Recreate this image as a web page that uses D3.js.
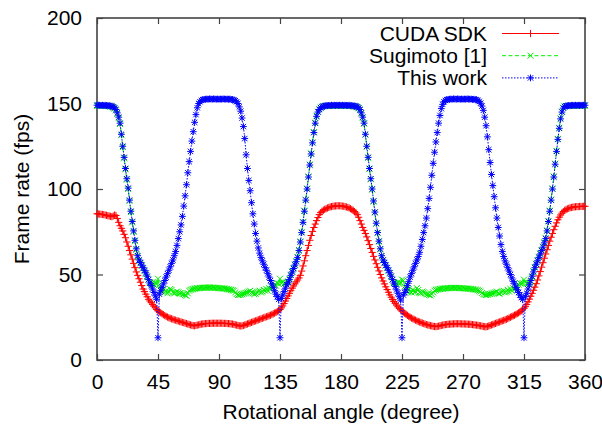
<!DOCTYPE html>
<html>
<head>
<meta charset="utf-8">
<script src="https://cdn.jsdelivr.net/npm/d3@7/dist/d3.min.js"></script>
<style>
  html, body { margin: 0; padding: 0; background: #fff; }
  svg { display: block; font-family: "Liberation Sans", Arial, Helvetica, sans-serif; }
</style>
</head>
<body>
<svg id="chart" width="602" height="425"></svg>
<script>
// ---------- data ----------
const angles = d3.range(0, 361); // rotational angle, 1 degree steps

const seriesNames = ["CUDA SDK", "Sugimoto [1]", "This work"];

const cudaSDK = [
85.5,85.4,85.3,85.2,85.1,85,84.8,84.6,84.4,84.2,
84,83.8,84.2,84.8,84.5,82.8,80.5,78.5,77,75.5,
73.5,71.5,69,66.5,64,61.5,59,56.5,54,51.5,
49.5,47.5,45.5,43.5,41.5,40,38.5,37,35.5,34.5,
33.5,32.5,31.5,30.5,29.5,28.8,28.2,27.6,27,26.5,
26,25.5,25.1,24.7,24.4,24.1,23.8,23.5,23.3,23,
22.8,22.5,22.3,22,21.8,21.5,21.3,21,20.8,20.5,
20.3,20.1,20,20.2,20.4,20.6,20.8,21,21.1,21.2,
21.3,21.3,21.4,21.4,21.4,21.5,21.5,21.5,21.5,21.5,
21.5,21.5,21.5,21.4,21.4,21.4,21.3,21.3,21.2,21.1,
21,20.8,20.6,20.4,20.2,20,19.9,20,20.2,20.5,
20.8,21.1,21.4,21.7,22,22.3,22.6,22.9,23.2,23.5,
23.8,24.1,24.4,24.7,25,25.3,25.6,25.9,26.2,26.6,
27,27.4,27.8,28.3,28.9,29.6,30.5,31.6,33,34.5,
36,37.5,39,40.5,42,43.3,44.5,45.7,46.8,48,
49.5,52,55,58,61,64,67,70,72.8,75.2,
77.5,79.5,81.5,83.3,85,86.2,87,87.6,88.1,88.5,
88.9,89.2,89.5,89.7,89.9,90,90.1,90.2,90.2,90.2,
90.1,90,89.9,89.7,89.5,89.2,88.9,88.5,88,87.5,
86.8,86,85,83.5,81.5,79.5,77.5,75.8,74,72,
69.8,67.5,65.2,62.9,60.6,58.5,56.3,54.2,52.1,50,
48,46.2,44.5,42.8,41.2,39.6,38.1,36.7,35.4,34.2,
33.1,32.1,31.1,30.2,29.4,28.7,28,27.3,26.7,26.1,
25.5,25,24.5,24.1,23.7,23.3,22.9,22.5,22.2,21.9,
21.6,21.3,21,20.7,20.5,20.3,20.1,19.9,19.7,19.6,
19.5,19.6,19.8,20,20.2,20.4,20.6,20.7,20.8,20.9,
21,21,21.1,21.1,21.2,21.2,21.2,21.2,21.2,21.1,
21.1,21.1,21,21,20.9,20.9,20.8,20.7,20.6,20.5,
20.4,20.3,20.1,20,19.8,19.6,19.5,19.4,19.6,19.9,
20.2,20.5,20.8,21.1,21.4,21.7,22,22.3,22.6,22.9,
23.2,23.5,23.8,24.2,24.6,25,25.4,25.8,26.2,26.6,
27.1,27.6,28.1,28.7,29.4,30.2,31.2,32.5,34,35.6,
37.3,39,40.8,42.6,44.6,46.8,49.2,51.7,54.3,56.9,
59.5,62,64.5,67,69.5,71.8,74,76.2,78.2,80.2,
82,83.5,84.8,85.9,86.8,87.5,88,88.4,88.7,89,
89.2,89.4,89.5,89.6,89.7,89.7,89.8,89.8,89.8,89.9,
89.9
];

const sugimoto = [
148.6,148.8,148.7,148.9,148.6,148.8,148.7,148.5,148.6,148.4,
148.3,148,147.6,147,146,144,141.5,138,131.5,124.5,
118,111.5,105.5,100,93,86.5,80.5,75,69.5,64.5,
60.5,58,56.5,55,53.5,52,50.5,48.5,47,45.5,
44.5,45.5,44,45,44.5,47.5,44,41,40,41.5,
39.5,40.5,39,40,41.5,41,39.5,39,39.5,40,
39.5,39,39,38.5,38.5,38,37.5,39,40.5,41,
41.3,41.5,41.7,41.8,42,42,42.1,42.2,42.2,42.3,
42.3,42.3,42.4,42.4,42.3,42.3,42.3,42.2,42.2,42.1,
42,42,41.9,41.8,41.8,41.6,41.5,41.3,41.2,41,
40.8,40.5,39.5,38.5,38,38,38.2,38.5,38.8,39,
39.3,39.5,40,40.5,39.5,39,38.5,38.8,39.5,40,
40.5,39.5,40,41,40.5,41.5,40.5,42,41.5,43,
42.5,44,43.5,45,44.5,47.5,45,45.5,44.5,45,
45.5,46,47.5,49.8,51.8,53.8,55.8,57.8,60.3,64.3,
69.3,74.8,80.8,87.3,93.8,100.3,107.3,114.3,120.8,127.3,
133.3,138.8,142.8,145.3,146.8,147.6,148.1,148.4,148.5,148.6,
148.5,148.7,148.6,148.8,148.6,148.7,148.6,148.8,148.6,148.7,
148.6,148.7,148.6,148.8,148.6,148.7,148.6,148.5,148.6,148.4,
148.3,148.1,147.8,147.2,146.2,144.2,141.7,138.2,131.7,124.7,
118.2,111.7,105.7,99.7,92.7,86.2,79.7,74.2,69.2,64.7,
60.7,58.2,56.7,55.2,53.7,52.2,50.7,48.7,47,45.5,
45,44.5,45.5,44.5,45,47,46.5,43,41,40,
41.5,40,39.5,41,39.5,40,42,41,39.5,39,
40,39.5,39,38.5,38.5,38,37.8,38.5,39.5,40.5,
41,41.2,41.4,41.5,41.6,41.7,41.8,41.9,42,42,
42.1,42.1,42.2,42.2,42.2,42.2,42.1,42.1,42,42,
41.9,41.9,41.8,41.8,41.7,41.6,41.5,41.4,41.3,41.2,
41,40.8,40.5,40,39.2,38.5,38.2,38,38.2,38.4,
38.6,38.8,39,39.3,39.6,40,39,38.8,39.5,40,
40.5,39.5,40,41,40,41.5,40.5,42,41.5,43,
42.5,44,45,44.5,45,47,45.5,45,44.5,45,
46,48.5,51.8,54.3,56.3,58.3,60.3,62.3,64.3,66.3,
68.8,71.3,75.8,81.3,87.3,93.8,100.3,107.3,114.8,122.3,
129.3,135.8,141.3,145.3,147.5,148.3,148.5,148.6,148.7,148.6,
148.7,148.8,148.6,148.8,148.7,148.8,148.6,148.8,148.7,148.8,
148.7
];

const thisWork = [
149,149,149,148.8,149,148.8,149,148.8,148.6,148.8,
148.5,148.4,148,147.5,146.5,144.5,142,138.5,132,125,
118.5,112,106,100.5,93.5,87,81,75.5,70,65,
61,58.5,57,55.5,54,52.5,51,49,47,45,
43.5,41.5,39.5,37.5,35.5,13,38.5,40.5,42.5,44.5,
46.5,48.5,50.5,52.5,54.5,56.5,58.5,61,63.5,67,
71,75,79,84,90,96,102.5,109.5,116,122,
128,133.5,139,143.5,147.5,150,151,151.8,152.2,152.4,
152.5,152.6,152.5,152.7,152.6,152.5,152.7,152.6,152.5,152.6,
152.5,152.6,152.5,152.7,152.6,152.5,152.6,152.5,152.6,152.4,
152.3,152,151.6,151,150,148,145.5,141.5,136.5,129.5,
120,112,105,99,92,85.5,79.5,74,69.5,65.5,
62.5,60,58,56,54,52.5,50.5,48.5,46.5,44.5,
42.5,40.5,38.5,37,35.5,13,36,38,40,42,
44,45.5,47,49.5,51.5,53.5,55.5,57.5,60,64,
69,74.5,80.5,87,93.5,100,107,114,120.5,127,
133,138.5,142.5,145,146.5,147.5,148,148.4,148.6,148.8,
148.7,148.9,148.8,149,148.9,149,148.8,149,148.9,149,
148.9,149,148.8,149,148.9,148.8,149,148.7,148.8,148.6,
148.5,148.4,148,147.5,146.5,144.5,142,138.5,132,125,
118.5,112,106,100,93,86.5,80,74.5,69.5,65,
61,58.5,57,55.5,54,52.5,51,49,47,45,
43,41,39,37,35,13,38,39.5,41,43.5,
46,48.5,50.5,52.5,54.5,56.5,58.5,60.5,63,66.5,
70.5,74.5,78.5,83,88.5,94.5,101,108,115,121.5,
127.5,133,138.5,143,147,149.5,151,151.8,152.2,152.4,
152.5,152.6,152.5,152.7,152.6,152.5,152.7,152.6,152.5,152.6,
152.5,152.6,152.5,152.7,152.6,152.5,152.6,152.4,152.5,152.3,
152.2,151.8,151.2,150.2,148.5,146,142,137,130.5,123,
115.5,108.5,102,95.5,89,83,77.5,72.5,67.5,63.5,
60.5,58,56,54,52,50,48,46,44.5,42.5,
41,39.5,38,36.5,35.5,13,37,39,41.5,44,
46.5,49,51.5,54,56,58,60,62,64,66,
68.5,71,75.5,81,87,93.5,100,107,114.5,122,
129,135.5,141,145,147.3,148.2,148.5,148.7,148.8,148.7,
148.9,149,148.8,149,148.9,149,148.8,149,148.9,149,
149
];

const xTicks = [0, 45, 90, 135, 180, 225, 270, 315, 360];
const yTicks = [0, 50, 100, 150, 200];
const xLabel = "Rotational angle (degree)";
const yLabel = "Frame rate (fps)";

// ---------- layout ----------
const svg = d3.select("#chart");
const L = 97, R = 585, T = 18, B = 360;
const FS = 21;
const x = d3.scaleLinear().domain([0, 360]).range([L, R]);
const y = d3.scaleLinear().domain([0, 200]).range([B, T]);
const axisColor = "#444";

// axes (ticks inward, all four sides)
function styleAxis(g) {
  g.select(".domain").remove();
  g.selectAll(".tick line").attr("stroke", axisColor).attr("stroke-width", 1.2);
  g.selectAll(".tick text").attr("fill", "#000").style("font-size", FS + "px")
    .style("font-family", '"Liberation Sans", Arial, sans-serif');
}
svg.append("g").attr("transform", `translate(0,${B})`)
  .call(d3.axisBottom(x).tickValues(xTicks).tickSizeInner(-6).tickSizeOuter(0).tickPadding(14))
  .call(styleAxis);
svg.append("g").attr("transform", `translate(${L},0)`)
  .call(d3.axisLeft(y).tickValues(yTicks).tickSizeInner(-6).tickSizeOuter(0).tickPadding(15))
  .call(styleAxis);
svg.append("g").attr("transform", `translate(0,${T})`)
  .call(d3.axisTop(x).tickValues(xTicks).tickSizeInner(-6).tickSizeOuter(0).tickFormat(""))
  .call(styleAxis);
svg.append("g").attr("transform", `translate(${R},0)`)
  .call(d3.axisRight(y).tickValues(yTicks).tickSizeInner(-6).tickSizeOuter(0).tickFormat(""))
  .call(styleAxis);

svg.append("rect").attr("x", L).attr("y", T).attr("width", R - L).attr("height", B - T)
  .attr("fill", "none").attr("stroke", axisColor).attr("stroke-width", 1.6);

// axis labels
svg.append("text").attr("x", (L + R) / 2).attr("y", 419).attr("text-anchor", "middle")
  .style("font-size", FS + "px").text(xLabel);
svg.append("text").attr("transform", `translate(29,${(T + B) / 2}) rotate(-90)`)
  .attr("text-anchor", "middle").style("font-size", FS + "px").text(yLabel);

// ---------- series ----------
const series = [
  { name: seriesNames[0], values: cudaSDK, color: "#ff0000", dash: null, marker: "plus" },
  { name: seriesNames[1], values: sugimoto, color: "#00f000", dash: "4,2.5", marker: "cross" },
  { name: seriesNames[2], values: thisWork, color: "#0000ff", dash: "1.5,1.5", marker: "star" }
];

function markerPath(type) {
  const p = 3.6, c = 3.0, s = 3.4, sc = 2.7;
  if (type === "plus") return `M${-p},0H${p}M0,${-p}V${p}`;
  if (type === "cross") return `M${-c},${-c}L${c},${c}M${-c},${c}L${c},${-c}`;
  return `M${-s},0H${s}M0,${-s}V${s}M${-sc},${-sc}L${sc},${sc}M${-sc},${sc}L${sc},${-sc}`;
}

const line = d3.line().x((d, i) => x(angles[i])).y(d => y(d));
const plotG = svg.append("g");

series.forEach(s => {
  const g = plotG.append("g");
  g.append("path").datum(s.values)
    .attr("d", line).attr("fill", "none").attr("stroke", s.color)
    .attr("stroke-width", 1).attr("stroke-dasharray", s.dash);
  g.selectAll("path.m").data(s.values).join("path").attr("class", "m")
    .attr("transform", (d, i) => `translate(${x(angles[i])},${y(d)})`)
    .attr("d", markerPath(s.marker))
    .attr("fill", "none").attr("stroke", s.color).attr("stroke-width", 1);
});

// ---------- legend ----------
const legend = svg.append("g");
series.forEach((s, i) => {
  const ly = 33.5 + i * 22.2;
  legend.append("text").attr("x", 487).attr("y", ly).attr("dy", "0.35em")
    .attr("text-anchor", "end").style("font-size", FS + "px").text(s.name);
  legend.append("line").attr("x1", 502).attr("x2", 559).attr("y1", ly).attr("y2", ly)
    .attr("stroke", s.color).attr("stroke-width", 1).attr("stroke-dasharray", s.dash);
  legend.append("path").attr("transform", `translate(530.5,${ly})`)
    .attr("d", markerPath(s.marker)).attr("fill", "none")
    .attr("stroke", s.color).attr("stroke-width", 1);
});
</script>
</body>
</html>
